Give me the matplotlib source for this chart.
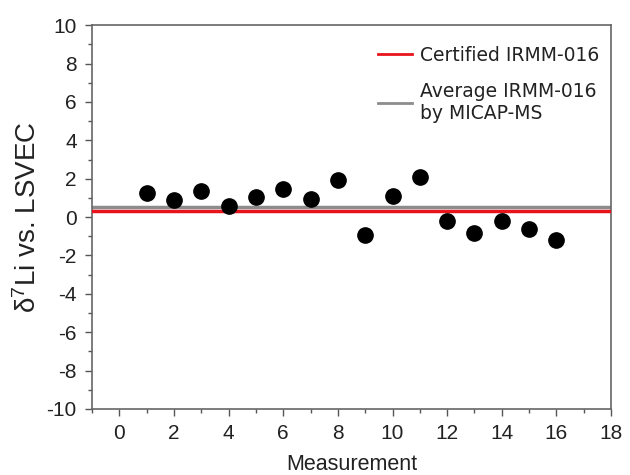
import matplotlib
matplotlib.use("Agg")
import matplotlib.pyplot as plt
from matplotlib.ticker import MultipleLocator

plt.rcParams["axes.unicode_minus"] = False
plt.rcParams["mathtext.default"] = "regular"

measurement = list(range(1, 17))
delta7li = [1.26, 0.9, 1.37, 0.58, 1.05, 1.47, 0.95, 1.95, -0.95, 1.1, 2.1, -0.2, -0.84, -0.2, -0.63, -1.2]
certified = 0.3
average = 0.55

fig = plt.figure(figsize=(6.3, 4.75), dpi=100)
ax = fig.add_axes([0.146, 0.139, 0.824, 0.808])
ax.axhline(average, color="#8c8c8c", lw=2.5, label="Average IRMM-016\nby MICAP-MS", zorder=2)
ax.axhline(certified, color="#e8141c", lw=2.5, label="Certified IRMM-016", zorder=3)
ax.plot(measurement, delta7li, "o", color="black", ms=11, zorder=4)

ax.set_xlim(-1, 18)
ax.set_ylim(-10, 10)
ax.xaxis.set_major_locator(MultipleLocator(2))
ax.xaxis.set_minor_locator(MultipleLocator(1))
ax.yaxis.set_major_locator(MultipleLocator(2))
ax.yaxis.set_minor_locator(MultipleLocator(1))
tickfont = "Liberation Sans"
ax.tick_params(which="major", direction="out", length=5, width=1, color="#555555", labelsize=15, pad=6)
ax.tick_params(which="minor", direction="out", length=3, width=1, color="#555555")
for lab in ax.get_xticklabels() + ax.get_yticklabels():
    lab.set_fontfamily(tickfont)
    lab.set_color("#222222")
for s in ax.spines.values():
    s.set_color("#666666")
    s.set_linewidth(1.2)

ax.set_xlabel("Measurement", fontsize=15.5, family=tickfont, labelpad=8, color="#222222")
ax.set_ylabel("δ$^7$Li vs. LSVEC", fontsize=20, family=tickfont, labelpad=3, color="#222222")

h, l = ax.get_legend_handles_labels()
leg = ax.legend([h[1], h[0]], [l[1], l[0]], loc="upper right", frameon=False,
                prop={"family": "DejaVu Sans", "size": 13.5}, handlelength=1.8,
                handletextpad=0.45, bbox_to_anchor=(1.01, 0.99), labelspacing=0.9)
for t in leg.get_texts():
    t.set_color("#222222")
for ln in leg.get_lines():
    ln.set_linewidth(2)

fig.savefig("out.png", dpi=100)
